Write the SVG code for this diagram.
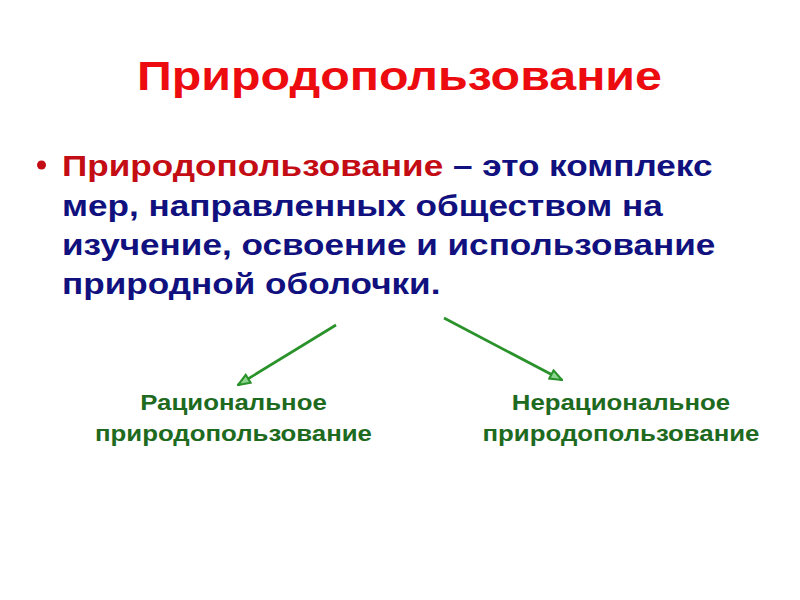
<svg xmlns="http://www.w3.org/2000/svg" width="800" height="600" viewBox="0 0 800 600">
<style>
text{font-family:"Liberation Sans",Arial,sans-serif;font-weight:bold}
.title{fill:#ec0c10;font-size:40px}
.body{fill:#10107e;font-size:30px}
.red{fill:#c40c14}
.lbl{fill:#1e6a1e;font-size:21.5px;text-anchor:middle}
.arr{stroke:#2a922a;stroke-width:2.7;fill:none}
</style>
<defs>
<marker id="ah" viewBox="0 0 14 12" refX="13" refY="6" markerWidth="5.4" markerHeight="4.6" orient="auto" markerUnits="strokeWidth">
<path d="M1.5,1.5 L13,6 L1.5,10.5 Z" fill="#8ed48e" stroke="#2a922a" stroke-width="2"/>
</marker>
</defs>
<rect width="800" height="600" fill="#fff"/>
<g id="title"><text class="title" x="137" y="90" textLength="525" lengthAdjust="spacingAndGlyphs">Природопользование</text></g>
<g id="definition">
<circle cx="41.5" cy="165" r="4.5" fill="#c40c14"/>
<g transform="translate(62,0) scale(1.171,1) translate(-62,0)">
<text class="body" x="62" y="176"><tspan class="red">Природопользование</tspan> – это комплекс</text>
<text class="body" x="62" y="216">мер, направленных обществом на</text>
<text class="body" x="62" y="255">изучение, освоение и использование</text>
<text class="body" x="62" y="294">природной оболочки.</text>
</g>
</g>
<g id="connectors">
<line class="arr" x1="336" y1="325" x2="238" y2="385" marker-end="url(#ah)"/>
<line class="arr" x1="444" y1="318" x2="562" y2="380" marker-end="url(#ah)"/>
</g>
<g id="rational">
<g transform="translate(233.5,0) scale(1.2,1) translate(-233.5,0)">
<text class="lbl" x="233.5" y="410">Рациональное</text>
<text class="lbl" x="233.5" y="441">природопользование</text>
</g>
</g>
<g id="irrational">
<g transform="translate(621,0) scale(1.2,1) translate(-621,0)">
<text class="lbl" x="621" y="410">Нерациональное</text>
<text class="lbl" x="621" y="441">природопользование</text>
</g>
</g>
</svg>
